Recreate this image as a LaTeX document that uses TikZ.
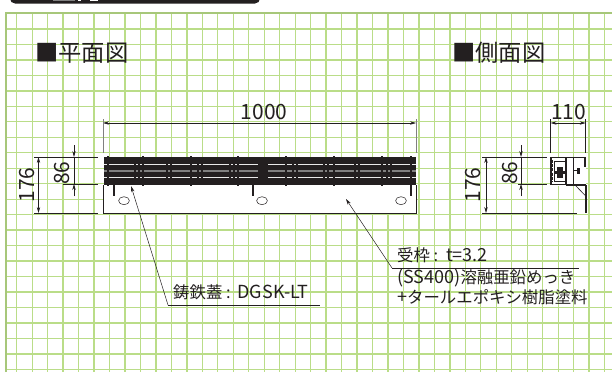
\documentclass[tikz,border=0pt]{standalone}
\usetikzlibrary{arrows.meta}
\usepackage{fontspec}
\setmainfont{Noto Sans CJK JP}
\definecolor{gridg}{HTML}{BADD88}
\definecolor{ink}{HTML}{231F20}
\newcommand{\latn}[1]{{\fontsize{18}{18}\selectfont #1}}
\tikzset{
  gridline/.style={gridg,line width=1.3pt},
  dimline/.style={ink,line width=.6pt},
  dimarrow/.style={ink,line width=.6pt,{Stealth[length=6pt,width=3.4pt]}-{Stealth[length=6pt,width=3.4pt]}},
  dimtick/.style={ink,line width=.6pt,-{Stealth[length=6pt,width=3.4pt]}},
  leader/.style={ink,line width=.5pt},
  lbl/.style={ink,inner sep=0pt,font=\fontsize{21}{21}\selectfont},
  title/.style={ink,inner sep=0pt,anchor=west,font=\fontsize{23.3}{23.3}\selectfont},
  note/.style={ink,inner sep=0pt,anchor=west,font=\fontsize{16.4}{16.4}\selectfont},
  bolt/.style={ink,line width=1.1pt},
}
\begin{document}
\begin{tikzpicture}[x=1pt,y=-1pt]
\useasboundingbox (0,0) rectangle (612,372);
\fill[white] (0,0) rectangle (612,372);
% top tab
\fill[ink,rounded corners=5pt] (10,-10) rectangle (260,3.5);
\fill[gray] (53,0) rectangle (75,1);
\fill[white] (78,0) rectangle (81,1);
\fill[white] (90,0) rectangle (98,1.2);
% grid
\foreach \i in {0,...,38} \draw[gridline] ({16.7+15.47*\i},12) -- ({16.7+15.47*\i},372);
\foreach \j in {0,...,22} \draw[gridline] (5,{29+15.47*\j}) -- (612,{29+15.47*\j});
\draw[gridg!90!black,line width=2.4pt] (6,372) -- (6,13) -- (612,13);
% titles
\node[title] (t1) at (35,53) {■平面図};
\node[title] (t2) at (452,53) {■側面図};
% plan: base plate
\fill[white] (103,185) rectangle (416,213);
\draw[ink,line width=.7pt] (103,185) -- (103,213) -- (416,213) -- (416,185);
\foreach \x in {124,262,401} \draw[ink,line width=.5pt,fill=white] (\x,200.7) ellipse (5.4pt and 4pt);
\foreach \x in {114,253,411} \draw[bolt] (\x,185) -- (\x,196);
% plan: grating
\fill[ink] (104,157) rectangle (416,185);
\draw[white!90!ink,line width=.8pt] (104,164) -- (416,164);
\draw[white!90!ink,line width=.8pt] (104,177.5) -- (416,177.5);
\draw[gray,line width=1.6pt] (104,171) -- (416,171);
\foreach \x in {137,169,200,232,295,326,357,389} {
  \draw[ink,line width=1.6pt] ({\x-2.2},161) -- ({\x-2.2},181);
  \draw[ink,line width=1.6pt] ({\x+2.2},161) -- ({\x+2.2},181);
}
\fill[ink] (258,160) rectangle (268,182);
\foreach \x in {108,143,191,238,286,334,382,411}
  \draw[ink,line width=2pt] (\x,156) -- (\x,186);
% plan dims
\coordinate (dl) at (103,123);
\coordinate (dr) at (416,123);
\draw[dimarrow] (dl) -- (dr);
\draw[gray,line width=.7pt] (103,119) -- (103,153);
\draw[gray,line width=.7pt] (416,119) -- (416,153);
\node[lbl] (w) at (264,112) {1000};
\draw[dimline] (34,157) -- (98,157);
\draw[dimline] (63,184) -- (98,184);
\draw[dimline] (34,213) -- (98,213);
\draw[dimarrow] (38.5,157) -- (38.5,213);
\draw[dimtick] (74,145) -- (74,157);
\draw[dimtick] (74,196) -- (74,184);
\draw[dimline] (74,157) -- (74,184);
\node[lbl,rotate=90] (h1) at (27.5,185) {176};
\node[lbl,rotate=90] (h2) at (62,173) {86};
% leaders
\coordinate (a1) at (131,186);
\coordinate (k1) at (168,305);
\coordinate (e1) at (320,305);
\draw[leader,-{Stealth[length=6pt,width=3.4pt]}] (k1) -- (a1);
\draw[leader] (k1) -- (e1);
\node[note] (n1) at (173,292) {鋳鉄蓋 : \hspace{2pt}\latn{DGSK-LT}};
\coordinate (a2) at (346,199);
\coordinate (k2) at (392,268);
\coordinate (e2) at (579,268);
\draw[leader,-{Stealth[length=6pt,width=3.4pt]}] (k2) -- (a2);
\draw[leader] (k2) -- (e2);
\node[note] (n2) at (397,255) {受枠 : \hspace{3pt}\latn{t=3.2}};
\node[note] (n3) at (397,278) {\latn{(SS400)}溶融亜鉛めっき};
\node[note] (n4) at (397,297) {\latn{+}タールエポキシ樹脂塗料};
% side dims
\draw[dimline] (550.5,119) -- (550.5,153);
\draw[dimline] (585.7,119) -- (585.7,153);
\draw[dimarrow] (550.5,123) -- (585.7,123);
\node[lbl] (w2) at (568.5,112) {110};
\draw[dimline] (482,157) -- (547,157);
\draw[dimline] (518,184) -- (547,184);
\draw[dimline] (482,213) -- (577,213);
\draw[dimarrow] (486,157) -- (486,213);
\draw[dimtick] (521,145) -- (521,157);
\draw[dimtick] (521,196) -- (521,184);
\draw[dimline] (521,157) -- (521,184);
\node[lbl,rotate=90] (h3) at (473.5,185) {176};
\node[lbl,rotate=90] (h4) at (510,173) {86};
% side section
\fill[white] (550,157) rectangle (586,186);
\draw[ink,line width=1.2pt] (551,157.5) rectangle (566,184.5);
\draw[ink,line width=1.8pt,dash pattern=on 3pt off 1.2pt] (552,160) -- (552,182);
\draw[ink,line width=.7pt] (554,161) rectangle (565,181);
\fill[ink] (557,167) rectangle (563,178);
\fill[ink] (555,171) rectangle (565,174);
\draw[ink,line width=1.6pt] (566.5,157) -- (566.5,185);
\draw[ink,line width=.8pt] (573,157) -- (573,185);
\draw[ink,line width=1.4pt] (566,157.7) -- (585,157.7) -- (585,167);
\draw[ink,line width=1.4pt] (566,185) -- (586,185);
\draw[ink,line width=1.8pt] (585.7,185) -- (585.7,213);
\draw[ink,line width=.6pt] (575,185) -- (585.7,196);
\draw[ink,line width=1.4pt] (573,170.5) -- (578,170.5);
\fill[ink] (577,167.5) rectangle (580,173.5);
\end{tikzpicture}
\end{document}
